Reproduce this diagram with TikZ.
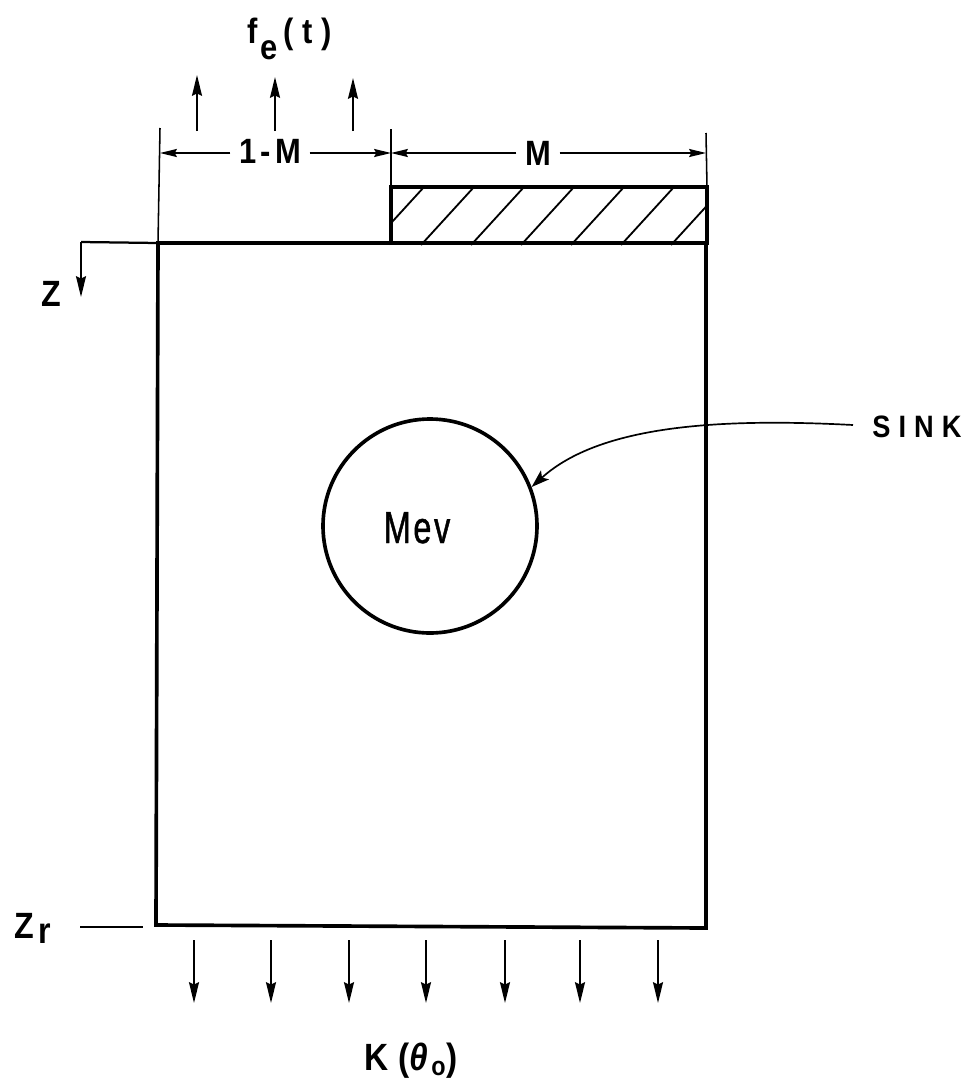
\documentclass[tikz,border=0pt]{standalone}
\usepackage{fontspec}
\setmainfont{Liberation Sans}
\newfontfamily\lab[FakeStretch=0.88]{Liberation Sans}
\newfontfamily\mevfont[FakeStretch=0.72,FakeBold=1]{Liberation Sans}
\usetikzlibrary{arrows.meta}
\begin{document}
\begin{tikzpicture}[x=0.25mm,y=-0.25mm,
  thickline/.style={line width=2.6pt},
  thinline/.style={line width=1.1pt},
  hatchline/.style={line width=1.3pt},
  dimarrow/.style={line width=1.3pt,-{Stealth[length=4.2mm,width=2mm,inset=0.5mm]}},
  fluxarrow/.style={line width=1.3pt,-{Stealth[length=5.2mm,width=2.5mm,inset=0.6mm]}},
  dimlbl/.style={anchor=base, inner ysep=0pt, inner xsep=6pt, font=\lab\bfseries\fontsize{25}{28}\selectfont\addfontfeature{LetterSpace=12}},
  biglbl/.style={anchor=base, inner sep=0pt, font=\lab\bfseries\fontsize{26}{30}\selectfont\addfontfeature{LetterSpace=12}}]
\useasboundingbox (0,0) rectangle (971,1080);

% main box
\coordinate (tl) at (158,243);
\coordinate (tr) at (706,243);
\coordinate (br) at (706,928);
\coordinate (bl) at (156,925);
\draw[thickline] (tl) -- (tr) -- (br) -- (bl) -- cycle;

% hatched strip
\coordinate (hl) at (391,187);
\coordinate (hr) at (707,245);
\begin{scope}
  \clip (hl) rectangle (hr);
  \foreach \b in {371,421,...,721}
    \draw[hatchline] (\b,245) -- (\b+53,187);
\end{scope}
\draw[thickline] (391,245) |- (hl -| hr) -- (hr);

% dimension lines
\coordinate (e1b) at (160,128);
\coordinate (e2b) at (391,129);
\coordinate (e3b) at (706,133);
\draw[thinline] (e1b) -- (tl);
\draw[thinline] (e2b) -- (hl);
\draw[thinline] (e3b) -- (hl -| hr);
\coordinate (d1) at (160,153);
\coordinate (d2) at (391,153);
\coordinate (d3) at (706,153);
\node[dimlbl] (lm) at (270,163) {1-M};
\node[dimlbl] (mm) at (538,165) {M};
\draw[dimarrow] (lm.west |- d1) -- (d1);
\draw[dimarrow] (lm.east |- d1) -- (d2);
\draw[dimarrow] (mm.west |- d2) -- (d2);
\draw[dimarrow] (mm.east |- d3) -- (d3);

% surface flux arrows
\node[biglbl, font=\lab\bfseries\fontsize{25}{28}\selectfont\addfontfeature{LetterSpace=25}]
  (fe) at (290,43) {f\hspace{2pt}\raisebox{-12pt}{e}\hspace{4pt}(t)};
\foreach \x/\t [count=\i] in {197/75,275/77,353/78}{
  \coordinate (ua\i) at (\x,131);
  \coordinate (ub\i) at (\x,\t);
  \draw[fluxarrow] (ua\i) -- (ub\i);
}

% Z axis
\coordinate (zc) at (81,242);
\coordinate (zt) at (81,297);
\draw[line width=1.6pt] (tl) -- (zc);
\draw[fluxarrow] (zc) -- (zt);
\node[biglbl] (z) at (51,306) {Z};

% Zr
\node[biglbl, anchor=base west] (zr) at (14,938) {Z\hspace{3pt}\raisebox{-4pt}{r}};
\coordinate (zra) at (80,927);
\coordinate (zrb) at (143,927);
\draw[line width=1.6pt] (zra) -- (zrb);

% bottom flux arrows
\foreach \x [count=\i] in {194,271,349,426,505,580,658}{
  \coordinate (ka\i) at (\x,940);
  \coordinate (kb\i) at (\x,1003);
  \draw[fluxarrow] (ka\i) -- (kb\i);
}
\node[biglbl, font=\lab\bfseries\fontsize{27}{30}\selectfont\addfontfeature{LetterSpace=8}]
  (k) at (411,1070) {K\hspace{7pt}(\textit{θ}\textsubscript{o})};

% sink
\node[draw, circle, thickline, minimum size=53.5mm, inner sep=0pt] (mev) at (430,526) {};
\node[anchor=base, inner sep=0pt, font=\mevfont\fontsize{32}{36}\selectfont\addfontfeature{LetterSpace=6}]
  (mevlbl) at (417,543) {Mev};
\node[anchor=base, inner sep=0pt, font=\lab\bfseries\fontsize{22}{26}\selectfont\addfontfeature{LetterSpace=26}]
  (sink) at (917,437) {SINK};
\coordinate (sk) at (853,425);
\draw[line width=1.2pt,-{Stealth[length=4.5mm,width=3mm,inset=1mm]}]
  (sk) .. controls (720,418) and (600,425) .. (mev.21);
\end{tikzpicture}
\end{document}
